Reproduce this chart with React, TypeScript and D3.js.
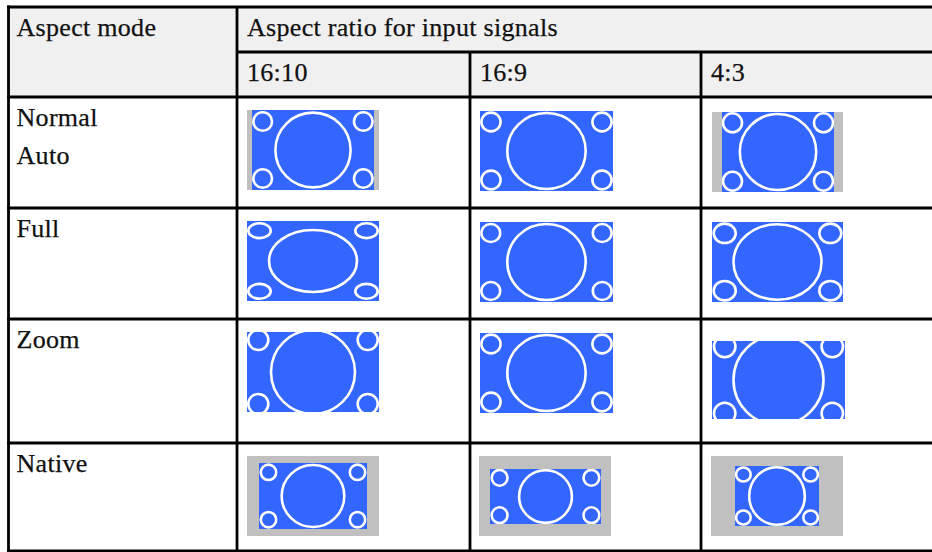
import React from "react";
import * as d3 from "d3";

// ---------- data ----------
const headerMode = "Aspect mode";
const headerSignal = "Aspect ratio for input signals";
const signalLabels = ["16:10", "16:9", "4:3"];
const modeLabels = [["Normal", "Auto"], ["Full"], ["Zoom"], ["Native"]];

// thumbnails: rows = modes, columns = signals
// screen area (grey) [x, y, w, h] relative to thumbnail origin, or null
const screenRects: (number[] | null)[][] = [
  [[0, 0, 132, 80], null, [1, 2, 131, 80]],
  [null, null, null],
  [null, null, null],
  [[0, 0, 132, 80], [-1, 0, 132, 80], [0, 0, 132, 80]],
];
// projected picture (blue) [x, y, w, h]
const pictureRects: number[][][] = [
  [[5, 0, 122, 80], [0, 1, 133, 80], [11, 2, 112, 80]],
  [[0, 0, 132, 80], [0, 1, 133, 80], [1, 1, 131, 80]],
  [[0, 0, 132, 80], [0, 1, 133, 80], [1, 9, 133, 78]],
  [[12, 7, 108, 66], [10, 13, 111, 55], [24, 10, 84, 60]],
];
// big centre ellipse radii [rx, ry]
const bigRadii: number[][][] = [
  [[37.6, 37.4], [39.2, 38], [38.2, 38]],
  [[44, 31], [39.2, 38], [44, 37.7]],
  [[42, 42], [39.2, 38], [45, 45]],
  [[31.3, 31], [26.4, 26.3], [27.8, 28.7]],
];
// corner ellipse radii [rx, ry]
const smallRadii: number[][][] = [
  [[9.3, 9.3], [9.6, 9.4], [9.5, 9.5]],
  [[11.2, 7.4], [9.4, 9.0], [11, 9.7]],
  [[10, 10], [9.6, 9.4], [10.7, 10.7]],
  [[7.7, 7.7], [7.9, 7.9], [7.3, 7]],
];
// corner ellipse centre insets from picture edges [dx, dy]
const smallInsets: number[][][] = [
  [[10.7, 11.5], [11, 11], [10.5, 10.8]],
  [[12.5, 9.7], [10.8, 11], [12.7, 11.3]],
  [[11.3, 8], [11, 11], [12.7, 5.6]],
  [[9.5, 9.3], [9.6, 8.8], [8.4, 8.5]],
];

// ---------- layout ----------
const W = 932;
const H = 552;
const TOP = 7;
const LEFT = 8.5;
const headerHeights = [45, 45];
const rowHeights = [111, 111, 124, 108];
const colEdges = [LEFT, 237, 470, 701, 960];
const LW = 2.8;
const BLUE = "#3366FF";
const GREY = "#C0C0C0";
const HEADER_BG = "#F0F0F0";
const FONT = "'Liberation Serif', 'Times New Roman', serif";

export default function App() {
  const hY = [TOP, TOP + headerHeights[0], TOP + headerHeights[0] + headerHeights[1]];
  const bodyTop = hY[2];
  const rowY = [bodyTop, ...Array.from(d3.cumsum(rowHeights), (v) => bodyTop + v)];

  const colX = d3
    .scaleOrdinal<string, number>()
    .domain(signalLabels)
    .range(colEdges.slice(1, 4));
  const rowTop = d3
    .scaleOrdinal<number, number>()
    .domain(d3.range(modeLabels.length))
    .range(rowY.slice(0, 4));

  const textProps = {
    fontFamily: FONT,
    fontSize: 26,
    letterSpacing: 0.3,
    fill: "#111",
    stroke: "#111",
    strokeWidth: 0.25,
  };

  const hLine = (y: number, x0: number, x1: number, key: string) => (
    <line key={key} x1={x0} x2={x1} y1={y} y2={y} stroke="#000" strokeWidth={LW} />
  );
  const vLine = (x: number, y0: number, y1: number, key: string) => (
    <line key={key} x1={x} x2={x} y1={y0} y2={y1} stroke="#000" strokeWidth={LW} />
  );

  const thumbs: React.ReactNode[] = [];
  modeLabels.forEach((_, r) => {
    signalLabels.forEach((sig, c) => {
      const ox = colX(sig) + 10;
      const oy = rowTop(r) + 13;
      const scr = screenRects[r][c];
      const [px, py, pw, ph] = pictureRects[r][c];
      const [brx, bry] = bigRadii[r][c];
      const [srx, sry] = smallRadii[r][c];
      const [ix, iy] = smallInsets[r][c];
      const id = `clip-${r}-${c}`;
      const x0 = ox + px;
      const y0 = oy + py;
      const corners = [
        [x0 + ix, y0 + iy],
        [x0 + pw - ix, y0 + iy],
        [x0 + ix, y0 + ph - iy],
        [x0 + pw - ix, y0 + ph - iy],
      ];
      thumbs.push(
        <g key={id}>
          <defs>
            <clipPath id={id}>
              <rect x={x0} y={y0} width={pw} height={ph} />
            </clipPath>
          </defs>
          {scr && (
            <rect x={ox + scr[0]} y={oy + scr[1]} width={scr[2]} height={scr[3]} fill={GREY} />
          )}
          <rect x={x0} y={y0} width={pw} height={ph} fill={BLUE} />
          <g clipPath={`url(#${id})`} fill="none" stroke="#fff" strokeWidth={2.6}>
            <ellipse cx={x0 + pw / 2} cy={y0 + ph / 2} rx={brx} ry={bry} />
            {corners.map(([cx, cy], k) => (
              <ellipse key={k} cx={cx} cy={cy} rx={srx} ry={sry} />
            ))}
          </g>
        </g>
      );
    });
  });

  return (
    <svg
      width={W}
      height={H}
      style={{ position: "absolute", left: 0, top: 0, background: "#fff" }}
    >
      {/* header background */}
      <rect x={LEFT} y={TOP} width={W - LEFT + 10} height={bodyTop - TOP} fill={HEADER_BG} />

      {/* header texts */}
      <text x={LEFT + 8} y={hY[0] + 29} {...textProps}>
        {headerMode}
      </text>
      <text x={colEdges[1] + 10} y={hY[0] + 29} {...textProps}>
        {headerSignal}
      </text>
      {signalLabels.map((s) => (
        <text key={s} x={colX(s) + 10} y={hY[1] + 29} {...textProps}>
          {s}
        </text>
      ))}

      {/* mode labels */}
      {modeLabels.map((lines, r) =>
        lines.map((t, k) => (
          <text key={`${r}-${k}`} x={LEFT + 8} y={rowTop(r) + 29 + k * 38} {...textProps}>
            {t}
          </text>
        ))
      )}

      {thumbs}

      {/* grid lines */}
      {hLine(hY[0], LEFT - LW / 2, W + 10, "top")}
      {hLine(hY[1], colEdges[1], W + 10, "mid")}
      {rowY.map((y, i) => hLine(y, LEFT - LW / 2, W + 10, `row${i}`))}
      {vLine(colEdges[0], TOP - LW / 2, H + 5, "v0")}
      {vLine(colEdges[1], TOP, H + 5, "v1")}
      {vLine(colEdges[2], hY[1], H + 5, "v2")}
      {vLine(colEdges[3], hY[1], H + 5, "v3")}
    </svg>
  );
}
